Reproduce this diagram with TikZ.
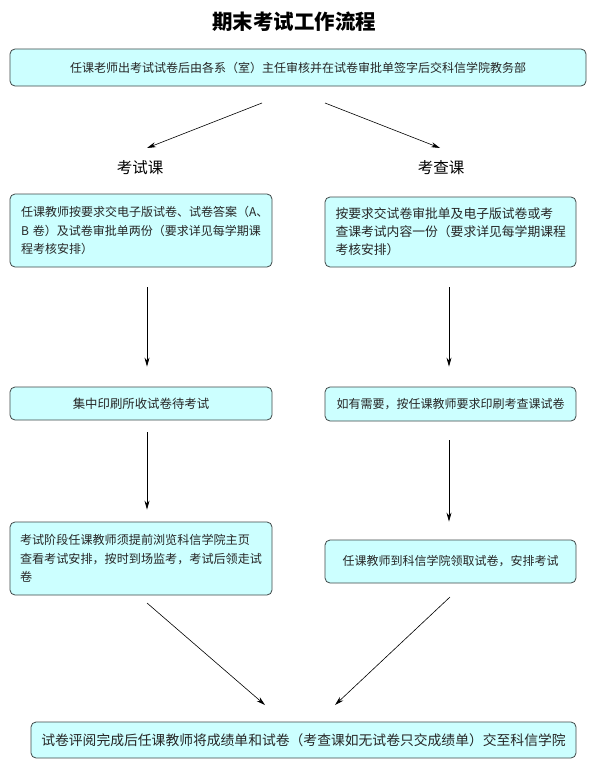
\documentclass[tikz,border=0pt]{standalone}
\usepackage{fontspec}
\newfontfamily\cjk{Noto Sans CJK SC}
\usetikzlibrary{arrows.meta}
\definecolor{boxfill}{HTML}{CCFFFF}
\definecolor{boxline}{HTML}{404848}
\tikzset{
  flowbox/.style={draw=boxline, line width=0.8pt, fill=boxfill, rounded corners=5pt,
    font=\cjk\fontsize{12}{18.5}\selectfont, text=black!85, inner sep=0pt},
  lbl/.style={font=\cjk\fontsize{15.5}{18}\selectfont, inner sep=0pt},
  arr/.style={line width=0.6pt, -{Stealth[length=9pt,width=5pt]}}
}
\begin{document}
\begin{tikzpicture}[x=1pt,y=-1pt]
\path[fill=white,use as bounding box] (0,0) rectangle (597,768);
\node[font=\cjk\bfseries\fontsize{20.5}{22}\selectfont] (title) at (294,22) {期末考试工作流程};
\node[flowbox, minimum width=576pt, minimum height=37pt] (top) at (298,67.5)
  {任课老师出考试试卷后由各系（室）主任审核并在试卷审批单签字后交科信学院教务部};
\node[lbl] (lk) at (140,168) {考试课};
\node[lbl] (rk) at (441,168) {考查课};
\node[flowbox, minimum width=262pt, minimum height=73pt, text width=240pt, align=left] (l1) at (141,230.5)
  {任课教师按要求交电子版试卷、试卷答案（A、\\B 卷）及试卷审批单两份（要求详见每学期课\\程考核安排）};
\node[flowbox, minimum width=251pt, minimum height=70pt, text width=230pt, align=left,
  font=\cjk\fontsize{12.8}{18}\selectfont] (r1) at (450.5,232)
  {按要求交试卷审批单及电子版试卷或考\\查课考试内容一份（要求详见每学期课程\\考核安排）};
\node[flowbox, minimum width=262pt, minimum height=33pt, font=\cjk\fontsize{12.4}{15}\selectfont] (l2) at (141,403.5)
  {集中印刷所收试卷待考试};
\node[flowbox, minimum width=251pt, minimum height=34pt] (r2) at (450.5,404)
  {如有需要，按任课教师要求印刷考查课试卷};
\node[flowbox, minimum width=262pt, minimum height=73pt, text width=242pt, align=left,
  font=\cjk\fontsize{12.1}{18.5}\selectfont] (l3) at (141,558.5)
  {考试阶段任课教师须提前浏览科信学院主页\\查看考试安排，按时到场监考，考试后领走试\\卷};
\node[flowbox, minimum width=251pt, minimum height=43pt] (r3) at (450.5,561.5)
  {任课教师到科信学院领取试卷，安排考试};
\node[flowbox, minimum width=545pt, minimum height=36pt, font=\cjk\fontsize{13.8}{16}\selectfont] (bot) at (303.5,740)
  {试卷评阅完成后任课教师将成绩单和试卷（考查课如无试卷只交成绩单）交至科信学院};
% connector end points
\coordinate (tl) at (262,103);
\coordinate (tr) at (325,103);
\coordinate (lke) at (147,148);
\coordinate (rke) at (440,148);
\coordinate (l3s) at (147,603);
\coordinate (r3s) at (450,597);
\coordinate (bl) at (265,705);
\coordinate (br) at (335,705);
\draw[arr] (tl) -- (lke);
\draw[arr] (tr) -- (rke);
\draw[arr, shorten <=20pt, shorten >=20pt] ([xshift=6pt]l1.south) -- ([xshift=6pt]l2.north);
\draw[arr, shorten <=20pt, shorten >=20pt] ([xshift=-1.5pt]r1.south) -- ([xshift=-1.5pt]r2.north);
\draw[arr, shorten <=12pt, shorten >=12pt] ([xshift=6pt]l2.south) -- ([xshift=6pt]l3.north);
\draw[arr, shorten <=19pt, shorten >=18pt] ([xshift=-1.5pt]r2.south) -- ([xshift=-1.5pt]r3.north);
\draw[arr] (l3s) -- (bl);
\draw[arr] (r3s) -- (br);
\end{tikzpicture}
\end{document}
